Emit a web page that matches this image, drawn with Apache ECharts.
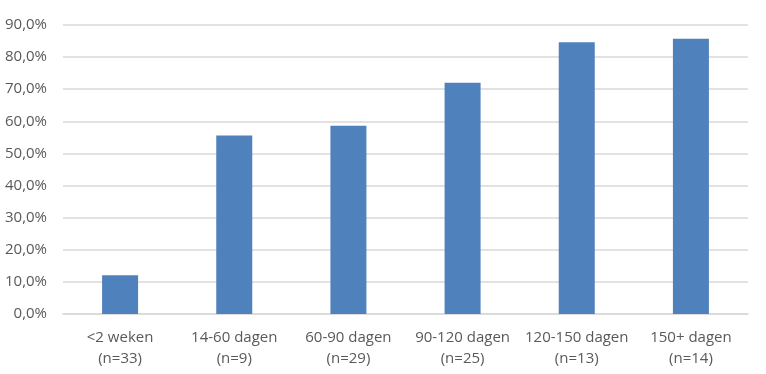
<!DOCTYPE html>
<html><head><meta charset="utf-8">
<script src="https://cdn.jsdelivr.net/npm/echarts@6/dist/echarts.min.js"></script>
<style>html,body{margin:0;padding:0;background:#fff}#c{width:766px;height:374px}</style>
</head><body><div id="c"></div>
<script>
const categories = ['<2 weken\n(n=33)', '14-60 dagen\n(n=9)', '60-90 dagen\n(n=29)', '90-120 dagen\n(n=25)', '120-150 dagen\n(n=13)', '150+ dagen\n(n=14)'];
const values = [12.1, 55.6, 58.6, 72.0, 84.6, 85.7];
const yMin = 0, yMax = 90, yStep = 10;

const chart = echarts.init(document.getElementById('c'));
chart.setOption({
  animation: false,
  grid: {left: 63, right: 18, top: 25, bottom: 60},
  xAxis: {
    type: 'category', data: categories,
    axisLine: {lineStyle: {color: '#d9d9d9', width: 1.5}},
    axisTick: {show: false},
    axisLabel: {color: '#595959', fontFamily: 'Open Sans', fontSize: 15, lineHeight: 21, margin: 13, interval: 0}
  },
  yAxis: {
    type: 'value', min: yMin, max: yMax, interval: yStep,
    axisLine: {show: false}, axisTick: {show: false},
    splitLine: {lineStyle: {color: '#d9d9d9', width: 1.5}},
    axisLabel: {color: '#595959', fontFamily: 'Open Sans', fontSize: 15, margin: 16,
      formatter: v => v.toFixed(1).replace('.', ',') + '%'}
  },
  series: [{
    type: 'bar', data: values, barWidth: 36,
    itemStyle: {color: '#4f81bd'}
  }]
});
</script></body></html>
